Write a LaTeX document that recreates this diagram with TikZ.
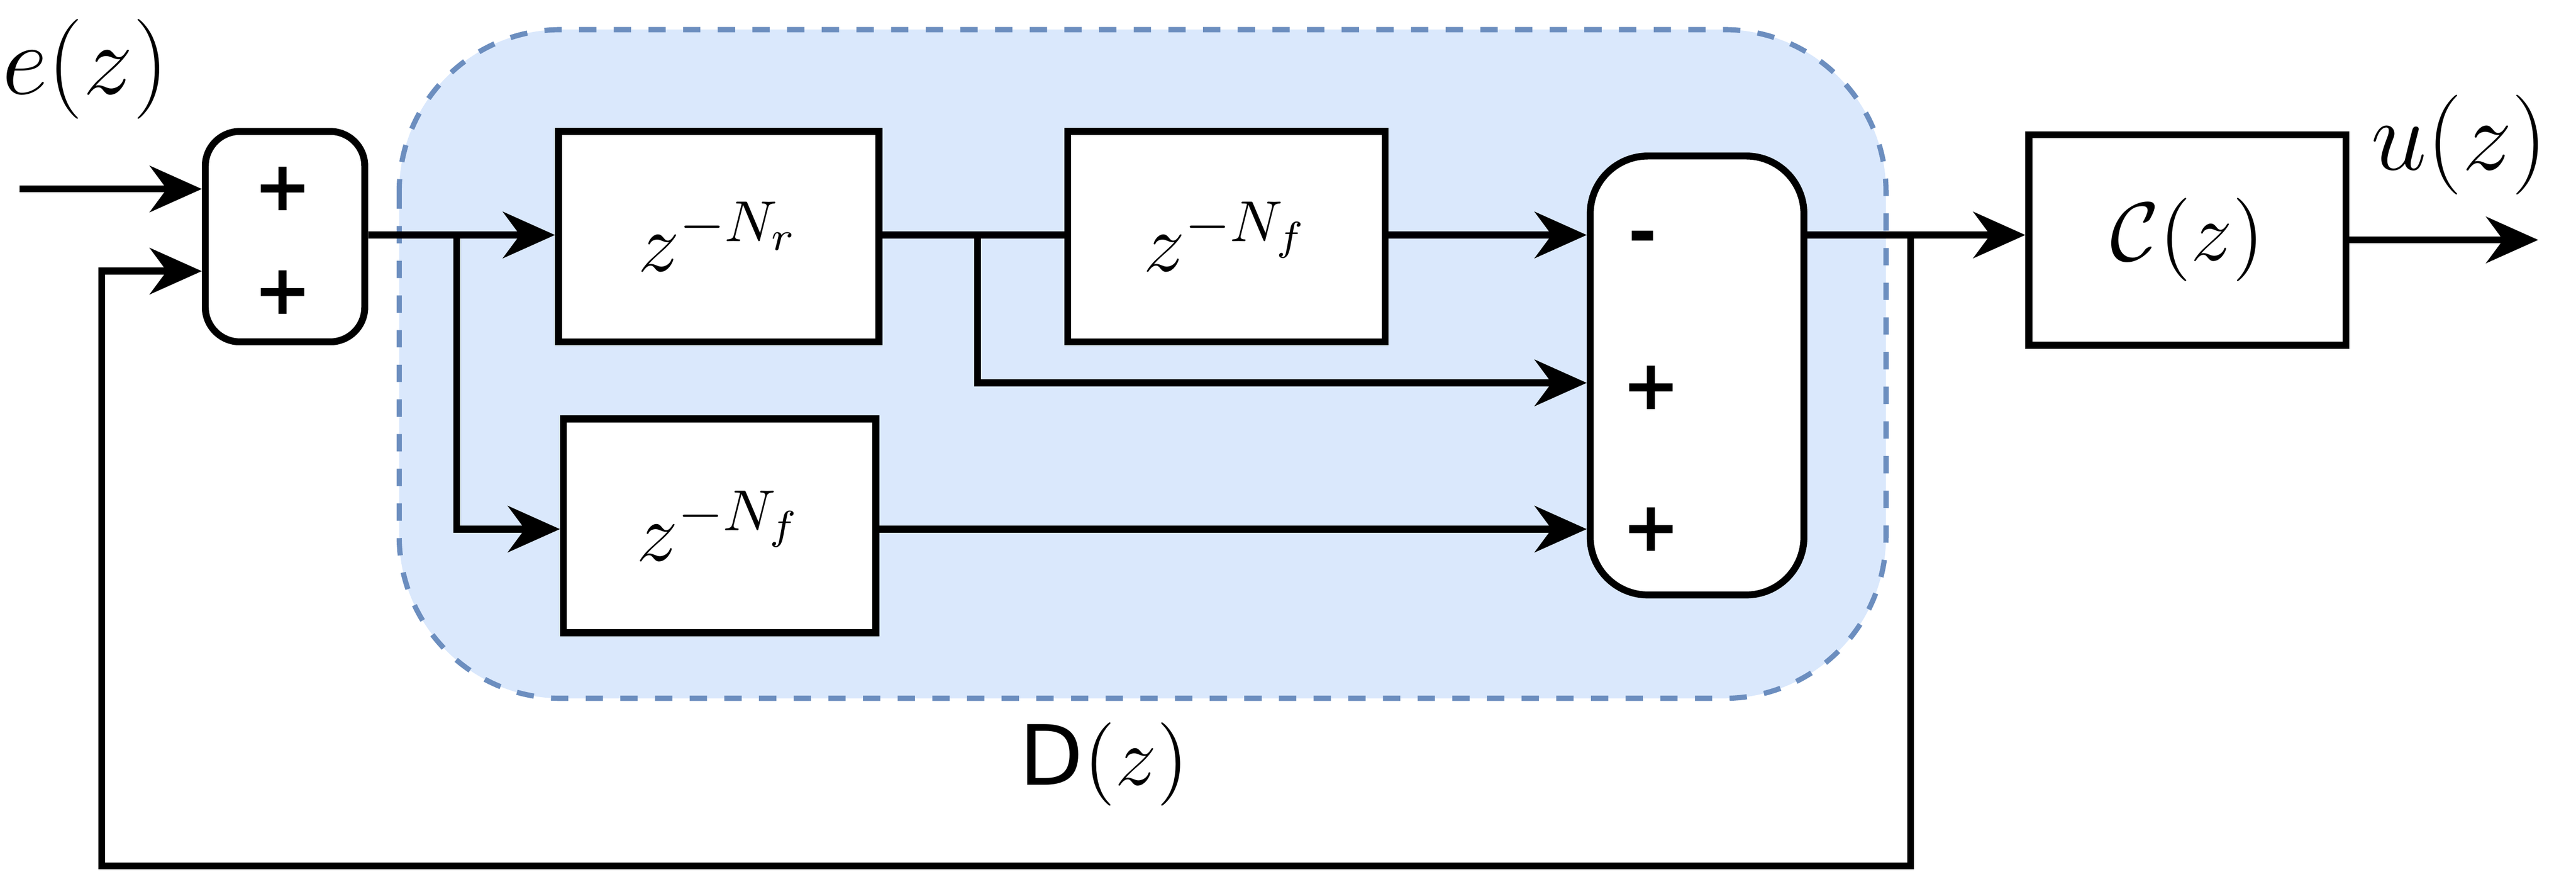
\documentclass[tikz,border=0pt]{standalone}
\usepackage{fontspec}
\usetikzlibrary{arrows.meta}
\newfontfamily\sansf{DejaVu Sans}
\definecolor{dfill}{HTML}{DAE8FC}
\definecolor{dline}{HTML}{6C8EBF}
\begin{document}
\begin{tikzpicture}[x=0.01cm,y=-0.01cm,
  line width=1.2pt,
  arr/.style={-{Stealth[length=9pt,width=8pt]}},
  blk/.style={draw,line width=1.2pt,fill=white,inner sep=0},
  sumb/.style={draw,line width=1.2pt,fill=white,rounded corners=6pt,inner sep=0},
  sg/.style={font=\sansf\bfseries\large},
  lbl/.style={font=\LARGE}]
\useasboundingbox (0,0) rectangle (1568,544);
\draw[dashed,draw=dline,fill=dfill,line width=0.9pt,rounded corners=28pt] (243,18) rectangle (1148,425);
\node[sumb,minimum width=0.97cm,minimum height=1.28cm] (s1) at (173.5,144) {};
\node[sg] (p1) at (172,115) {+};
\node[sg] (p2) at (172,178) {+};
\node[blk,minimum width=1.95cm,minimum height=1.28cm,font=\Large] (b1) at (437.5,144) {$z^{-N_r}$};
\node[blk,minimum width=1.93cm,minimum height=1.28cm,font=\Large] (b2) at (746.5,144) {$z^{-N_f}$};
\node[blk,minimum width=1.90cm,minimum height=1.30cm,font=\Large] (b3) at (438,320) {$z^{-N_f}$};
\node[sumb,minimum width=1.30cm,minimum height=2.67cm,rounded corners=10pt] (s2) at (1033,228.5) {};
\node[sg] (m1) at (1000,148) {-};
\node[sg] (p3) at (1005,236) {+};
\node[sg] (p4) at (1005,322) {+};
\node[blk,minimum width=1.93cm,minimum height=1.28cm,font=\Large] (c) at (1331.5,146) {$\mathcal{C}(z)$};
\node[lbl] (e) at (52,42) {$e(z)$};
\node[lbl] (u) at (1497,88) {$u(z)$};
\node[font=\Large] (d) at (672,465) {{\sansf D}$(z)$};
\coordinate (in) at (12,115);
\coordinate (j1) at (278,143);
\coordinate (j2) at (595,143);
\coordinate (j3) at (1163,143);
\coordinate (out) at (1545,146);
\draw[arr] (in) -- (in -| s1.west);
\draw (s1.east |- j1) -- (j1);
\draw[arr] (j1) -- (b1.west |- j1);
\draw[arr] (j1) |- (b3.west |- 0,322);
\draw (b1.east |- j2) -- (j2);
\draw (j2) -- (b2.west |- j2);
\draw[arr] (j2) |- (s2.west |- 0,233);
\draw[arr] (b2.east |- 0,143) -- (s2.west |- 0,143);
\draw[arr] (b3.east |- 0,322) -- (s2.west |- 0,322);
\draw (s2.east |- j3) -- (j3);
\draw[arr] (j3) -- (c.west |- j3);
\draw[arr] (c.east) -- (out);
\draw[arr] (j3) -- (1163,527) -- (62,527) -- (62,165) -- (s1.west |- 0,165);
\end{tikzpicture}
\end{document}
